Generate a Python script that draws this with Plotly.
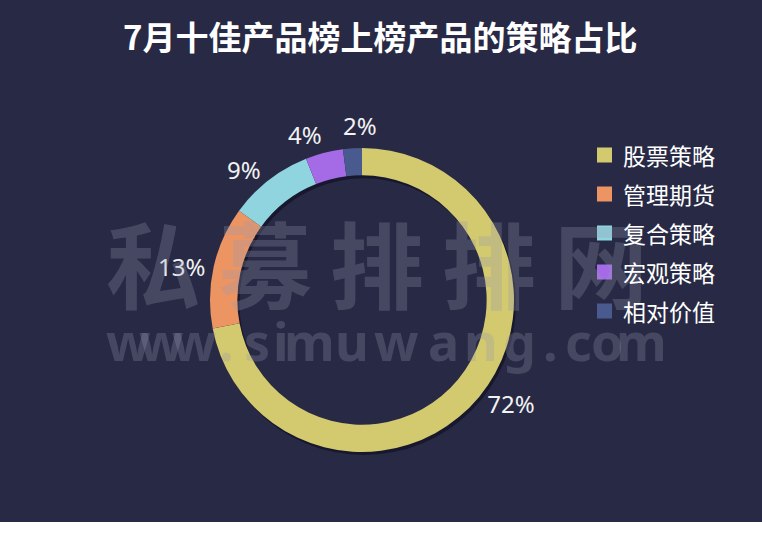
import math
import plotly.graph_objects as go

title_text = "7月十佳产品榜上榜产品的策略占比"
labels = ["股票策略", "管理期货", "复合策略", "宏观策略", "相对价值"]
values = [72, 13, 9, 4, 2]
colors = ["#d3c96f", "#ec9563", "#8fd4df", "#a56be6", "#485a8e"]
wm_chars = ["私", "募", "排", "排", "网"]
wm_url = list("www.simuwang.com")
wm_url_x = [128, 161, 194, 226, 257, 281, 309, 352, 396, 443, 481, 519, 550, 578, 607, 641]

W, H = 762, 534
BG = "#282a45"
CX, CY, R = 362, 300, 152
N_NATIVE = 3  # the two smallest slices get their labels as annotations (no leader lines)

def dom(dx=0, dy=0):
    return dict(x=[(CX - R + dx)/W, (CX + R + dx)/W], y=[(H - (CY + R + dy))/H, (H - (CY - R + dy))/H])

texts = [f"{v}%" for v in values]
pie_texts = texts[:N_NATIVE] + [""] * (len(values) - N_NATIVE)
LABEL_FONT = dict(color="#f2f2f2", size=24, family="Noto Sans")

fig = go.Figure()
# shadow
fig.add_trace(go.Pie(values=[1], hole=0.82, marker=dict(colors=["rgba(10,10,25,0.55)"], line=dict(width=0)),
                     textinfo="none", hoverinfo="skip", showlegend=False, domain=dom(2, 3), sort=False))
fig.add_trace(go.Pie(
    labels=labels, values=values, sort=False, direction="clockwise", rotation=0,
    hole=0.82, marker=dict(colors=colors, line=dict(width=0)),
    textposition="outside", text=pie_texts, textinfo="text",
    textfont=LABEL_FONT, domain=dom(), showlegend=False, hoverinfo="label+percent",
))

annotations = []
shapes = []
total = sum(values)
cum = 0
anchor_opts = {3: dict(r=R, xanchor="right", yanchor="bottom", xshift=0),
               4: dict(r=R + 4, xanchor="center", yanchor="bottom", xshift=8)}
for i, v in enumerate(values):
    mid = (cum + v / 2) / total * 2 * math.pi
    cum += v
    if i < N_NATIVE:
        continue
    o = anchor_opts[i]
    lx = CX + o["r"] * math.sin(mid)
    ly = CY - o["r"] * math.cos(mid)
    annotations.append(dict(text=texts[i], x=lx/W, y=1-ly/H, xref="paper", yref="paper", showarrow=False,
                            xanchor=o["xanchor"], yanchor=o["yanchor"], xshift=o["xshift"], font=LABEL_FONT))
# title
annotations.append(dict(text=f"<b>{title_text}</b>", x=380/W, y=1-36/H, xref="paper", yref="paper",
                        showarrow=False, xanchor="center", yanchor="middle",
                        font=dict(size=33, color="white", family="Noto Sans CJK SC")))
# watermark
wm_col = "rgba(150,152,175,0.28)"
for i, ch in enumerate(wm_chars):
    annotations.append(dict(text=f"<b>{ch}</b>", x=(153 + i*112)/W, y=1-261/H, xref="paper", yref="paper",
                            showarrow=False, xanchor="center", yanchor="middle",
                            font=dict(size=94, color=wm_col, family="Noto Sans CJK SC")))
for ch, x in zip(wm_url, wm_url_x):
    annotations.append(dict(text=f"<b>{ch}</b>", x=x/W, y=1-340/H, xref="paper", yref="paper",
                            showarrow=False, xanchor="center", yanchor="middle",
                            font=dict(size=52, color=wm_col, family="Noto Sans")))
# legend
for i, (lab, col) in enumerate(zip(labels, colors)):
    yc = 155 + i*39
    shapes.append(dict(type="rect", xref="paper", yref="paper",
                       x0=597/W, x1=612/W, y0=1-(yc+7.5)/H, y1=1-(yc-7.5)/H,
                       fillcolor=col, line=dict(width=0)))
    annotations.append(dict(text=lab, x=621/W, y=1-yc/H, xref="paper", yref="paper",
                            showarrow=False, xanchor="left", yanchor="middle",
                            font=dict(size=23, color="white", family="Noto Sans CJK SC")))
# white bottom strip
shapes.append(dict(type="rect", xref="paper", yref="paper", x0=0, x1=1, y0=0, y1=12/H,
                   fillcolor="white", line=dict(width=0), layer="above"))

fig.update_layout(
    width=W, height=H, margin=dict(l=0, r=0, t=0, b=0),
    paper_bgcolor=BG, plot_bgcolor=BG,
    annotations=annotations, shapes=shapes, showlegend=False,
)
fig.write_html("out.html", config={"displayModeBar": False},
               post_script="document.body.style.margin='0';document.body.style.overflow='hidden';")
